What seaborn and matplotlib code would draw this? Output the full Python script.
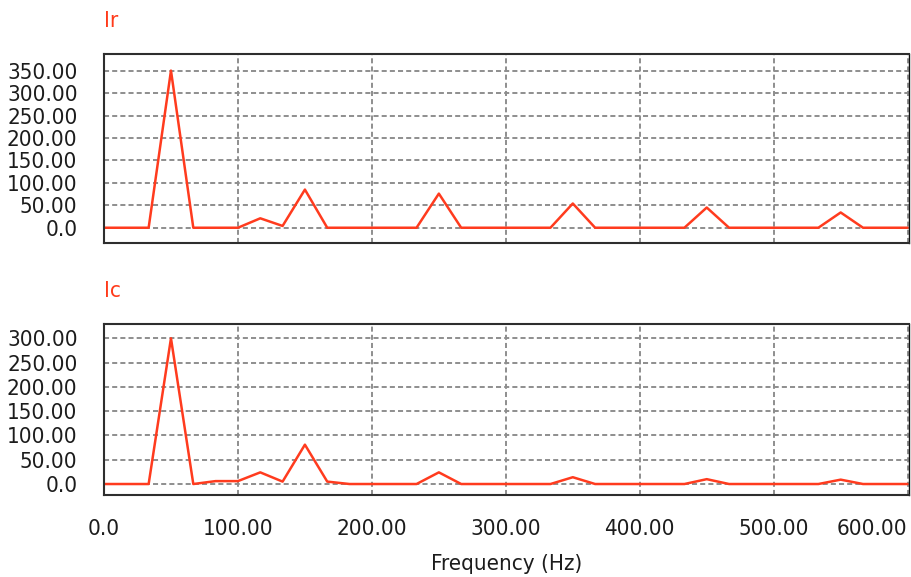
import matplotlib
matplotlib.use("Agg")
import matplotlib.pyplot as plt
import seaborn as sns
import pandas as pd

# Spectrum bins (Hz), 16.67 Hz resolution
freq_hz = [0.0, 16.67, 33.33, 50.0, 66.67, 83.33, 100.0, 116.67, 133.33, 150.0,
           166.67, 183.33, 200.0, 216.67, 233.33, 250.0, 266.67, 283.33, 300.0,
           316.67, 333.33, 350.0, 366.67, 383.33, 400.0, 416.67, 433.33, 450.0,
           466.67, 483.33, 500.0, 516.67, 533.33, 550.0, 566.67, 583.33, 600.0]

# Harmonic amplitudes of Ir
ir_amp = [0, 0, 0, 350, 0, 0, 0, 21, 4, 85,
          0, 0, 0, 0, 0, 76, 0, 0, 0,
          0, 0, 54, 0, 0, 0, 0, 0, 45,
          0, 0, 0, 0, 0, 34, 0, 0, 0]

# Harmonic amplitudes of Ic
ic_amp = [0, 0, 0, 300, 0, 6, 6, 24, 5, 81,
          5, 0, 0, 0, 0, 24, 0, 0, 0,
          0, 0, 14, 0, 0, 0, 0, 0, 10,
          0, 0, 0, 0, 0, 9, 0, 0, 0]

x_ticks = [0, 100, 200, 300, 400, 500, 600]
ir_ticks = [0, 50, 100, 150, 200, 250, 300, 350]
ic_ticks = [0, 50, 100, 150, 200, 250, 300]

sns.set_style("white")
plt.rcParams["font.family"] = ["DejaVu Sans", "Liberation Sans"]
plt.rcParams["font.stretch"] = "condensed"

LINE_RED = "#FF3B1E"
TITLE_RED = "#FF3A1A"
TEXT = "#1c1c1c"
FS = 16

fig = plt.figure(figsize=(9.11, 5.77), dpi=100)
ax_top = fig.add_axes([104 / 911, (577 - 243) / 577, 805 / 911, 189 / 577])
ax_bot = fig.add_axes([104 / 911, (577 - 495) / 577, 805 / 911, 171 / 577])


def fmt(v):
    return "0.0" if v == 0 else f"{v:.2f}"


def style_panel(ax, yticks, ylim, show_x):
    ax.set_xlim(0, 601)
    ax.set_ylim(*ylim)
    ax.set_xticks(x_ticks)
    ax.set_yticks(yticks)
    ax.set_yticklabels([fmt(v) for v in yticks], fontsize=FS, color=TEXT,
                       fontstretch="condensed")
    if show_x:
        labels = ax.set_xticklabels([fmt(v) for v in x_ticks], fontsize=FS, color=TEXT,
                                    fontstretch="condensed")
        labels[-1].set_horizontalalignment("right")
        ax.set_xlabel("Frequency (Hz)", fontsize=FS, color=TEXT, labelpad=11,
                      fontstretch="condensed")
    else:
        ax.set_xticklabels([])
        ax.set_xlabel("")
    ax.set_ylabel("")
    ax.tick_params(axis="y", length=0, pad=19)
    ax.tick_params(axis="x", length=0, pad=17)
    ax.grid(True, color="#8e8e8e", linewidth=1.4, linestyle=(0, (2.6, 1.6)))
    ax.set_axisbelow(True)
    for side, sp in ax.spines.items():
        sp.set_visible(True)
        sp.set_color("#2e2e2e")
        sp.set_linewidth(1.5)
    ax.spines["right"].set_linewidth(1.0)
    ax.spines["right"].set_color("#111111")


df = pd.DataFrame({"freq": freq_hz, "Ir": ir_amp, "Ic": ic_amp})

sns.lineplot(data=df, x="freq", y="Ir", ax=ax_top, color=LINE_RED, linewidth=1.8)
sns.lineplot(data=df, x="freq", y="Ic", ax=ax_bot, color=LINE_RED, linewidth=1.8)

style_panel(ax_top, ir_ticks, (-34, 387), show_x=False)
style_panel(ax_bot, ic_ticks, (-22.6, 329.4), show_x=True)

fig.text(104 / 911, 1 - 21 / 577, "Ir", color=TITLE_RED, fontsize=FS, ha="left",
         va="center", fontstretch="condensed")
fig.text(104 / 911, 1 - 291 / 577, "Ic", color=TITLE_RED, fontsize=FS, ha="left",
         va="center", fontstretch="condensed")

fig.savefig("out.png", dpi=100, facecolor="white")
